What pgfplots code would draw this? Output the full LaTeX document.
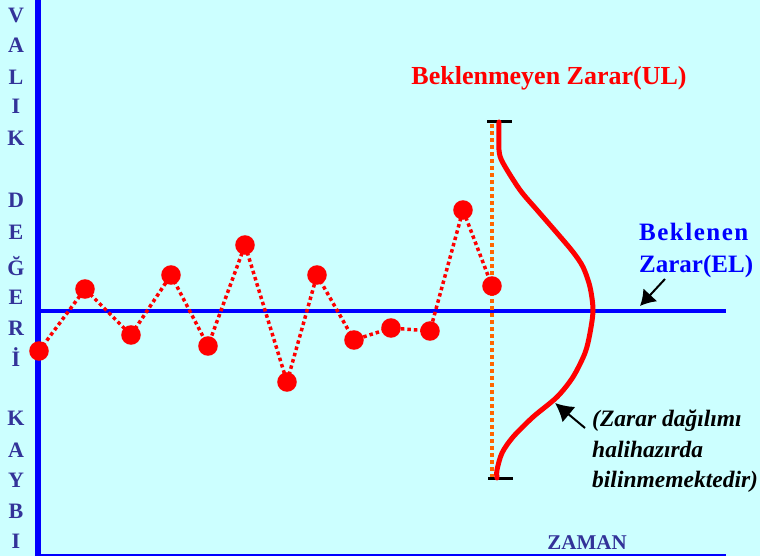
\documentclass[border=0pt]{standalone}
\usepackage{fontspec}
\setmainfont{Liberation Serif}
\usepackage{pgfplots}
\pgfplotsset{compat=1.18}
\usetikzlibrary{arrows.meta}

\definecolor{bgcyan}{HTML}{CCFFFF}
\definecolor{navy}{HTML}{333399}
\definecolor{ulorange}{HTML}{FF6600}

\tikzset{
  letter/.style={anchor=base, inner sep=0pt, text=navy,
    font=\fontsize{22}{22}\selectfont\bfseries},
  note/.style={anchor=west, inner sep=0pt, text=black,
    font=\fontsize{23.5}{23.5}\selectfont\bfseries\itshape},
}

\begin{document}
\begin{tikzpicture}
\useasboundingbox (0,0) rectangle (760pt,556pt);
\fill[bgcyan] (0,0) rectangle (760pt,556pt);
\begin{axis}[
  at={(0,0)}, anchor=south west,
  scale only axis, width=760pt, height=556pt,
  xmin=0, xmax=760, ymin=0, ymax=556,
  hide axis, clip=false,
]
% axis lines
\addplot[blue, line width=6pt] coordinates {(38,0) (38,556)};
\addplot[blue, line width=2pt] coordinates {(38,1) (726,1)};
% expected loss (EL)
\addplot[blue, line width=4pt] coordinates {(38,245) (726,245)};
% unexpected loss range
\addplot[ulorange, line width=3.5pt, dash pattern=on 3.5pt off 3.5pt]
  coordinates {(492,78) (492,434)};
\addplot[black, line width=3pt] coordinates {(487,434) (512,434)};
\addplot[black, line width=3pt] coordinates {(488,77) (513,77)};
% loss distribution
\addplot[red, line width=5pt, smooth, line cap=round] coordinates {
  (499,434) (499,406) (503,393) (520,366) (537,346) (557,323) (573,304)
  (583,289) (590,269) (593,246) (590,223) (585,203) (573,179) (557,159)
  (533,139) (513,119) (502,103) (497,86) (497,78)};
% value losses over time
\addplot[red, line width=3.5pt, dash pattern=on 3.5pt off 3pt,
  mark=*, mark size=8pt, mark options={solid, fill=red, draw=red}]
  coordinates {
  (39,205) (85,267) (131,221) (171,281) (208,210) (245,311) (287,174)
  (317,281) (354,216) (391,228) (430,225) (463,346) (492,270)};

% arrows
\draw[black, line width=2pt, -{Latex[length=15pt,width=19pt]}]
  (axis cs:665,277) -- (axis cs:640,250);
\draw[black, line width=2pt, -{Latex[length=18pt,width=20pt]}]
  (axis cs:585,128) -- (axis cs:555,153);

% texts
\node[inner sep=0pt, text=red, font=\fontsize{26}{26}\selectfont\bfseries]
  at (axis cs:549,478) {Beklenmeyen Zarar(UL)};
\node[anchor=west, inner sep=0pt, text=blue,
  font=\fontsize{25}{25}\selectfont\bfseries\addfontfeature{LetterSpace=6}]
  at (axis cs:639,324) {Beklenen};
\node[anchor=west, inner sep=0pt, text=blue, font=\fontsize{25}{25}\selectfont\bfseries]
  at (axis cs:639,290) {Zarar(EL)};
\node[note] at (axis cs:592,135) {(Zarar dağılımı};
\node[note] at (axis cs:592,107) {halihazırda};
\node[note] at (axis cs:592,74) {bilinmemektedir)};
\node[inner sep=0pt, text=navy, font=\fontsize{21}{21}\selectfont\bfseries]
  at (axis cs:587,13) {ZAMAN};

% vertical axis label
\node[letter] at (axis cs:16,533.5) {V};
\node[letter] at (axis cs:16,503.5) {A};
\node[letter] at (axis cs:16,471.5) {L};
\node[letter] at (axis cs:16,442.5) {I};
\node[letter] at (axis cs:16,410.5) {K};
\node[letter] at (axis cs:16,348.5) {D};
\node[letter] at (axis cs:16,316.5) {E};
\node[letter] at (axis cs:16,280.5) {Ğ};
\node[letter] at (axis cs:16,251.5) {E};
\node[letter] at (axis cs:16,220.5) {R};
\node[letter] at (axis cs:16,189.5) {İ};
\node[letter] at (axis cs:16,130.5) {K};
\node[letter] at (axis cs:16,98.5) {A};
\node[letter] at (axis cs:16,68.5) {Y};
\node[letter] at (axis cs:16,37.5) {B};
\node[letter] at (axis cs:16,7.5) {I};
\end{axis}
\end{tikzpicture}
\end{document}
